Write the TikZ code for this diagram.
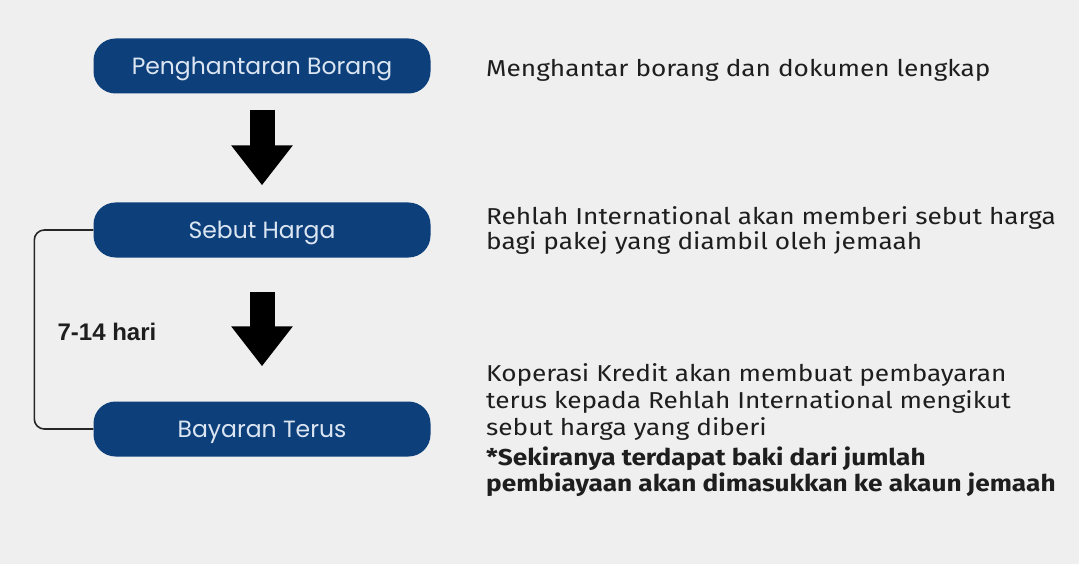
\documentclass[tikz,border=0pt]{standalone}
\usepackage{fontspec}
\setmainfont{Fira Sans}[FakeStretch=1.14]
\newfontfamily\boxfont{Poppins}
\newfontfamily\labfont{Liberation Sans}
\usetikzlibrary{arrows.meta,calc}
\definecolor{bgcol}{HTML}{EFEFEF}
\definecolor{boxblue}{HTML}{0D3F7B}
\definecolor{boxtext}{HTML}{DCE6F2}
\definecolor{txt}{HTML}{1E1E1E}
\tikzset{
  stepbox/.style={fill=boxblue, rounded corners=22pt, minimum width=337pt, minimum height=55pt,
    inner sep=0pt, text height=16.5pt, text depth=0pt, text=boxtext,
    font=\boxfont\fontsize{23.5}{28}\selectfont},
  bigarrow/.style={line width=25pt, -{Triangle[width=59pt,length=40pt]}, black},
  desc/.style={anchor=base west, inner sep=0pt, text=txt, font=\fontsize{23}{26}\selectfont},
  descb/.style={desc, font=\bfseries\fontsize{23}{26}\selectfont},
  bracket/.style={line width=1.6pt, rounded corners=10pt, black!85}
}
\begin{document}
\begin{tikzpicture}[x=1pt,y=-1pt]
\fill[bgcol] (0,0) rectangle (1079,564);
\useasboundingbox (0,0) rectangle (1079,564);

\node[stepbox] (b1) at (262,66) {Penghantaran Borang};
\node[stepbox] (b2) at (262,230) {Sebut Harga};
\node[stepbox] (b3) at (262,429) {Bayaran Terus};

\coordinate (a1s) at ($(b1.south)+(0,16)$);
\coordinate (a1e) at ($(b2.north)+(0,-17)$);
\coordinate (a2s) at ($(b2.south)+(0,34)$);
\coordinate (a2e) at ($(b3.north)+(0,-35)$);
\draw[bigarrow] (a1s) -- (a1e);
\draw[bigarrow] (a2s) -- (a2e);

\draw[bracket] (b2.west) -- ++(-59,0) |- (b3.west);
\node[font=\labfont\bfseries\fontsize{24}{28}\selectfont, text=txt] (lab) at (107,332) {7-14 hari};

\node[desc] (d1) at (486,77) {Menghantar borang dan dokumen lengkap};
\node[desc] (d2a) at (486,225) {Rehlah International akan memberi sebut harga};
\node[desc] (d2b) at (486,249) {bagi pakej yang diambil oleh jemaah};
\node[desc] (d3a) at (486,381) {Koperasi Kredit akan membuat pembayaran};
\node[desc] (d3b) at (486,408) {terus kepada Rehlah International mengikut};
\node[desc] (d3c) at (486,435) {sebut harga yang diberi};
\node[descb] (d3d) at (486,465) {*Sekiranya terdapat baki dari jumlah};
\node[descb] (d3e) at (486,491) {pembiayaan akan dimasukkan ke akaun jemaah};
\end{tikzpicture}
\end{document}
